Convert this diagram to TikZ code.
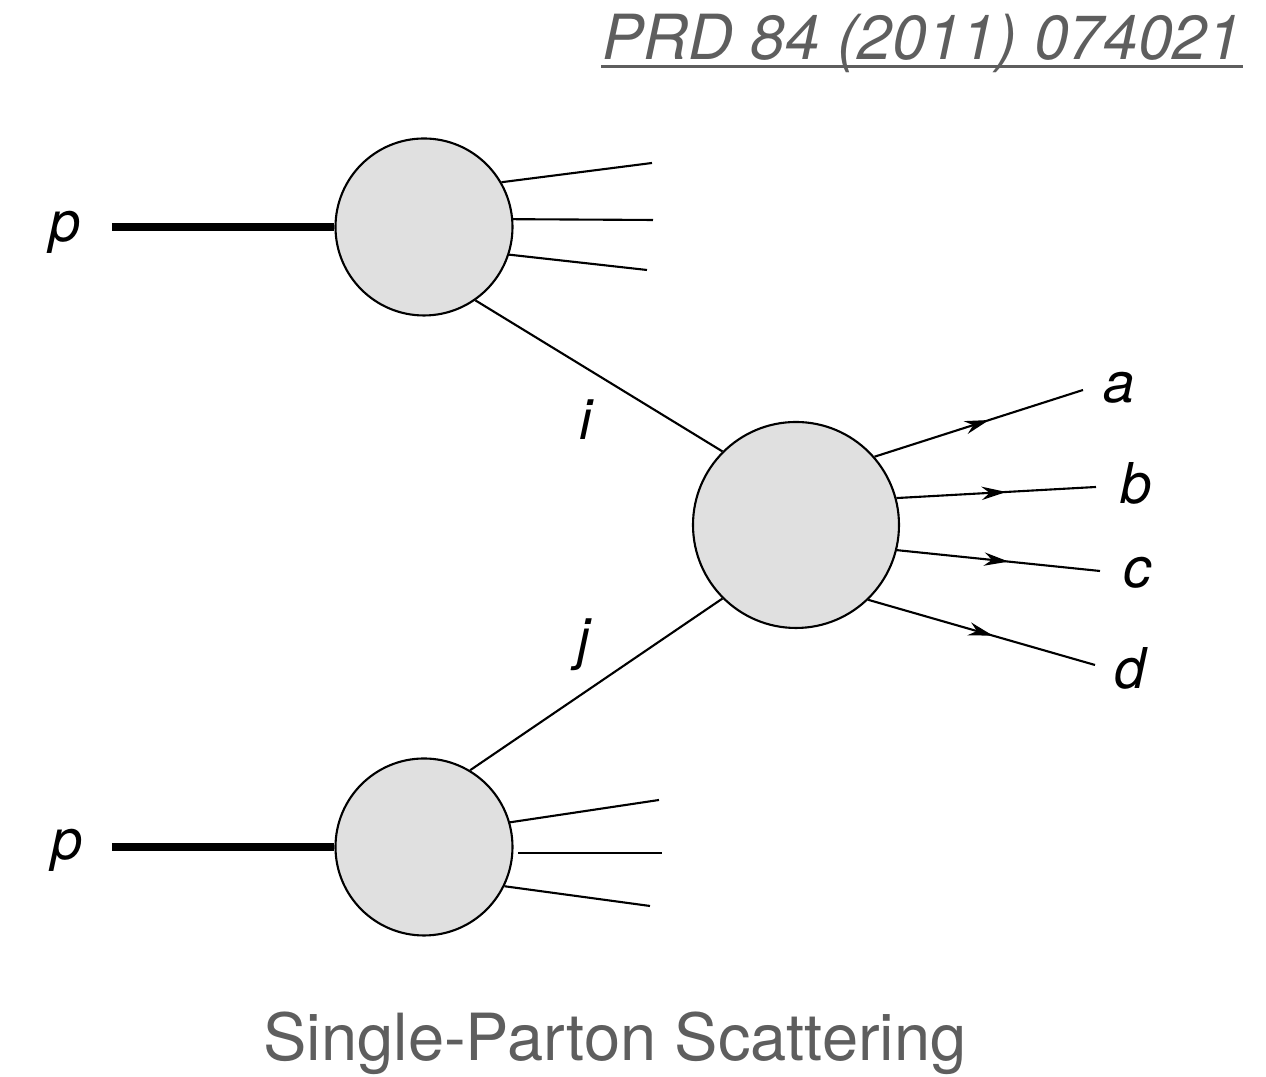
\documentclass[tikz,border=0pt]{standalone}
\usepackage{fontspec}
\setmainfont{TeX Gyre Heros}
\usetikzlibrary{arrows.meta,decorations.markings}
\definecolor{capgray}{HTML}{5E5E5E}
\definecolor{blobfill}{HTML}{E0E0E0}
\tikzset{
  blob/.style={circle,draw,line width=0.6pt,fill=blobfill,inner sep=0pt},
  parton/.style={line width=0.6pt},
  beam/.style={line width=2.2pt},
  flow/.style={line width=0.6pt,postaction={decorate},
    decoration={markings,mark=at position 0.55 with {\arrow{Stealth[length=7pt,width=3.8pt]}}}},
  lbl/.style={font=\fontsize{16}{19}\selectfont\itshape},
}
\begin{document}
\begin{tikzpicture}
  \useasboundingbox (0,0) rectangle (12.66,10.77);
  % reference and caption
  \node[font=\fontsize{17.7}{21}\selectfont\itshape,text=capgray,anchor=base,inner sep=0pt] (ref) at (9.22,10.17) {PRD 84 (2011) 074021};
  \draw[capgray,line width=0.85pt] ([yshift=-0.07cm]ref.base west) -- ([yshift=-0.07cm]ref.base east);
  \node[font=\fontsize{18.5}{22}\selectfont,text=capgray,anchor=base] (caption) at (6.15,0.16) {Single-Parton Scattering};

  % blobs
  \node[blob,minimum size=1.77cm] (topblob) at (4.24,8.50) {};
  \node[blob,minimum size=2.06cm] (hardblob) at (7.96,5.52) {};
  \node[blob,minimum size=1.77cm] (botblob) at (4.24,2.30) {};

  % protons
  \coordinate (ptop) at (1.12,8.50);
  \coordinate (pbot) at (1.12,2.30);
  \draw[beam] (ptop) -- (topblob.west);
  \draw[beam] (pbot) -- (botblob.west);
  \node[lbl] (ptoplab) at (0.65,8.45) {p};
  \node[lbl] (pbotlab) at (0.67,2.27) {p};

  % remnants
  \foreach \n/\ang/\ex/\ey in {1/30/6.52/9.14, 2/5/6.53/8.57, 3/-18/6.47/8.07}{
    \coordinate (tr\n) at (\ex,\ey);
    \draw[parton] (topblob.\ang) -- (tr\n);
  }
  \foreach \n/\ang/\ex/\ey in {1/16/6.59/2.77, 3/-26/6.50/1.71}{
    \coordinate (br\n) at (\ex,\ey);
    \draw[parton] (botblob.\ang) -- (br\n);
  }
  \coordinate (br2a) at (5.18,2.24);
  \coordinate (br2) at (6.62,2.24);
  \draw[parton] (br2a) -- (br2);

  % partons i and j
  \draw[parton] (topblob.-55) -- (hardblob.135);
  \draw[parton] (botblob.59) -- (hardblob.225);
  \node[lbl] (ilab) at (5.86,6.57) {i};
  \node[lbl] (jlab) at (5.84,4.32) {j};

  % outgoing
  \foreach \n/\ang/\ex/\ey/\lx/\ly in {a/41/10.83/6.87/11.19/6.89, b/15/10.96/5.90/11.36/5.94,
      c/-14/11.00/5.06/11.38/5.04, d/-46/10.95/4.12/11.30/4.09}{
    \coordinate (end\n) at (\ex,\ey);
    \draw[flow] (hardblob.\ang) -- (end\n);
    \node[lbl] (lab\n) at (\lx,\ly) {\n};
  }
\end{tikzpicture}
\end{document}
